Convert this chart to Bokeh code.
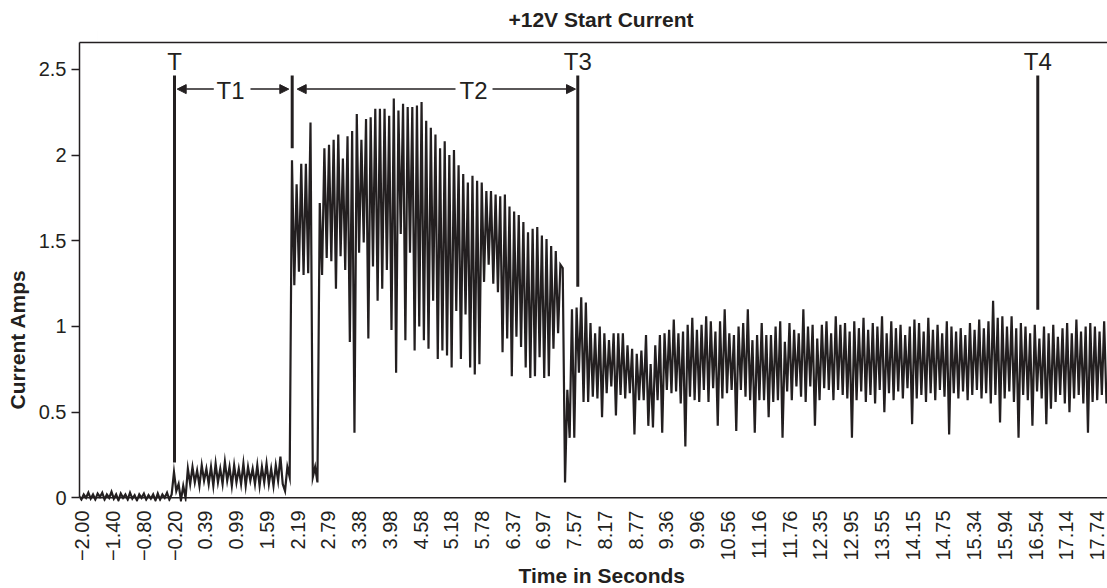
import math
from bokeh.plotting import figure
from bokeh.models import (Range1d, FixedTicker, LinearAxis, Span, Title, Arrow, NormalHead,
                          ColumnDataSource)
from bokeh.core.properties import value
from bokeh.embed import file_html
from bokeh.resources import INLINE

# ---------------- data ----------------
sample_start = -2.06      # seconds, first sample
sample_step = 0.045       # seconds between samples

idle_current = [0.01, -0.01, 0.02, 0.0, 0.03, -0.005, 0.02, -0.01, 0.025, 0.005,
                0.03, -0.01, 0.02, 0.0, 0.035, -0.005, 0.02, -0.015, 0.025, 0.0,
                0.02, -0.01, 0.03, -0.005, 0.015, -0.015, 0.02, 0.0, 0.025, -0.01,
                0.015, -0.005, 0.02, -0.015, 0.025, -0.01, 0.02, 0.0, 0.03, -0.01,
                0.02]
switch_on_current = [0.15, 0.04, 0.08, -0.015, 0.07, 0.0]
t1_current = [0.17, 0.08, 0.18, 0.09, 0.16, 0.07, 0.19, 0.10, 0.17, 0.08,
              0.18, 0.07, 0.20, 0.09, 0.17, 0.08, 0.21, 0.10, 0.18, 0.07,
              0.19, 0.09, 0.17, 0.08, 0.20, 0.07, 0.18, 0.10, 0.17, 0.08,
              0.19, 0.07, 0.18, 0.09, 0.20, 0.08, 0.17, 0.07, 0.19, 0.10,
              0.24, 0.08, 0.04, 0.18, 0.12]
t2_current = [1.97, 1.24, 1.83, 1.32, 1.95, 1.30, 1.95, 1.31, 2.19, 0.12,
              0.18, 0.09, 1.72, 1.30, 2.04, 1.40, 2.06, 1.38, 2.09, 1.22,
              2.12, 1.41, 1.98, 1.33, 2.11, 0.91, 2.14, 0.38, 2.24, 1.43,
              2.09, 1.49, 2.21, 0.93, 2.22, 1.35, 2.27, 1.15, 2.27, 1.22,
              2.27, 1.33, 2.23, 0.98, 2.33, 0.73, 2.26, 1.54, 2.30, 0.92,
              2.28, 1.43, 2.28, 0.86, 2.29, 1.00, 2.31, 0.92, 2.20, 0.87,
              2.16, 1.15, 2.12, 0.81, 2.04, 0.86, 2.08, 0.83, 2.00, 0.76,
              2.03, 1.09, 1.94, 0.81, 1.89, 1.07, 1.84, 0.76, 1.88, 0.72,
              1.85, 0.78, 1.84, 1.26, 1.79, 1.36, 1.79, 1.25, 1.77, 1.20,
              1.76, 0.85, 1.77, 0.93, 1.70, 0.71, 1.67, 0.94, 1.65, 0.88,
              1.61, 0.76, 1.55, 0.70, 1.57, 0.71, 1.58, 0.82, 1.53, 0.70,
              1.51, 0.71, 1.47, 0.87, 1.44, 0.96, 1.36, 1.34]
steady_current_a = [0.09, 0.63, 0.35, 1.10, 0.35, 1.11, 0.73, 1.17, 0.56, 1.14,
                    0.56, 1.02, 0.59, 0.96, 0.58, 1.00, 0.47, 0.96,
                    0.61, 0.92, 0.65, 0.96, 0.48, 0.96, 0.60, 0.96, 0.58, 0.89,
                    0.61, 0.87, 0.37, 0.84, 0.57, 0.86, 0.57, 0.95, 0.42, 0.78,
                    0.41, 0.89, 0.57, 0.95, 0.38, 0.96, 0.63, 0.98,
                    0.61, 1.04, 0.62, 0.96, 0.55, 0.97, 0.30, 1.01, 0.59, 1.05,
                    0.57, 0.98, 0.56, 1.01, 0.63, 1.06, 0.56, 1.03, 0.64, 0.97,
                    0.42, 1.03, 0.58, 1.10, 0.61, 0.96, 0.63, 0.95, 0.39, 1.00,
                    0.63, 1.02, 0.59, 1.10, 0.57, 0.92, 0.38, 0.95, 0.57, 1.02,
                    0.57, 0.95, 0.47, 0.95, 0.56, 1.00, 0.57, 1.03,
                    0.35, 0.91, 0.62, 1.02, 0.57, 0.98, 0.65, 0.96, 0.59, 1.10,
                    0.56, 1.00, 0.65, 1.01, 0.42, 0.93, 0.57, 1.01, 0.64, 1.03,
                    0.63, 0.96, 0.57, 1.06, 0.63, 1.01]
steady_current_b = [0.60, 1.02, 0.58, 0.97, 0.35, 1.03, 0.57, 0.99, 0.62, 1.05,
                    0.56, 0.98, 0.60, 1.02, 0.55, 1.00, 0.63, 1.06, 0.50, 0.96,
                    0.61, 1.03, 0.57, 0.99, 0.62, 1.01, 0.58, 0.95, 0.64, 1.00,
                    0.43, 1.04, 0.58, 1.02, 0.60, 0.97, 0.56, 1.05, 0.61, 0.98,
                    0.57, 1.01, 0.63, 0.96, 0.59, 1.03, 0.37, 1.00, 0.61, 0.97,
                    0.58, 0.99, 0.62, 0.95, 0.57, 1.02, 0.60, 0.98, 0.63, 1.04,
                    0.58, 0.99, 0.61, 1.03, 0.55, 1.15, 0.60, 1.05, 0.44, 1.06,
                    0.58, 1.00, 0.62, 1.06, 0.56, 0.99, 0.35, 1.02, 0.60, 1.00,
                    0.57, 0.96, 0.42, 1.01, 0.62, 0.93, 0.58, 1.00, 0.43, 0.96,
                    0.52, 1.01, 0.56, 0.94, 0.60, 0.99, 0.55, 1.02, 0.50, 0.96,
                    0.58, 1.04, 0.60, 0.97, 0.55, 1.00, 0.38, 1.02, 0.56, 1.00,
                    0.57, 0.97, 0.60, 1.03, 0.55]

x_tick_labels = ["\u22122.00", "\u22121.40", "\u22120.80", "\u22120.20", "0.39", "0.99", "1.59",
                 "2.19", "2.79", "3.38", "3.98", "4.58", "5.18", "5.78", "6.37", "6.97",
                 "7.57", "8.17", "8.77", "9.36", "9.96", "10.56", "11.16", "11.76", "12.35",
                 "12.95", "13.55", "14.15", "14.75", "15.34", "15.94", "16.54", "17.14", "17.74"]
y_ticks = [0, 0.5, 1, 1.5, 2, 2.5]
y_tick_labels = ["0", "0.5", "1", "1.5", "2", "2.5"]

# event markers (vertical bars)
marker_times = [-0.205, 2.084, 7.638, 16.584]
marker_lows = [0.206, 2.04, 1.232, 1.098]
marker_high = 2.465
marker_label_times = [-0.205, 7.638, 16.584]
marker_label_texts = ["T", "T3", "T4"]
marker_label_level = 2.548
interval_label_times = [0.886, 5.61]
interval_label_texts = ["T1", "T2"]
interval_label_level = 2.374
arrow_level = 2.385
arrow_starts = [0.559, 1.273, 5.26, 5.98]
arrow_ends = [-0.1525, 2.018, 2.181, 7.594]

# ---------------- build ----------------
current = idle_current + switch_on_current + t1_current + t2_current + steady_current_a + steady_current_b
time = [sample_start + sample_step * i for i in range(len(current))]
x_tick_values = [float(s.replace("\u2212", "-")) for s in x_tick_labels]

INK = "#231f20"
FONT = "Liberation Sans"

p = figure(width=1107, height=588, x_range=Range1d(-2.0525, 17.94), y_range=Range1d(-0.0215, 2.657),
           output_backend="svg", toolbar_location=None,
           min_border_left=79, min_border_right=0, min_border_top=42, min_border_bottom=86,
           outline_line_color=None, background_fill_color="white", border_fill_color="white")
p.xgrid.visible = False
p.ygrid.visible = False

p.line(time, current, line_color=INK, line_width=2.2, line_join="miter")

src = ColumnDataSource(dict(x=marker_times, y0=marker_lows, y1=[marker_high] * len(marker_times)))
p.segment(x0="x", y0="y0", x1="x", y1="y1", source=src, line_color=INK, line_width=3)

p.text(x=marker_label_times, y=[marker_label_level] * len(marker_label_times), text=marker_label_texts,
       text_font=value(FONT), text_font_size=value("24px"), text_color=INK,
       text_align="center", text_baseline="alphabetic")
p.text(x=interval_label_times, y=[interval_label_level] * len(interval_label_times), text=interval_label_texts,
       text_font=value(FONT), text_font_size=value("24px"), text_color=INK,
       text_align="center", text_baseline="alphabetic")
for xs, xe in zip(arrow_starts, arrow_ends):
    p.add_layout(Arrow(end=NormalHead(size=9, fill_color=INK, line_color=INK, line_width=1),
                       x_start=xs, y_start=arrow_level, x_end=xe, y_end=arrow_level,
                       line_color=INK, line_width=1.5))

p.add_layout(Span(location=0, dimension="width", line_color=INK, line_width=1.5))

yax = p.yaxis[0]
yax.ticker = FixedTicker(ticks=y_ticks)
yax.major_label_overrides = dict(zip(y_ticks, y_tick_labels))
yax.bounds = (0, 2.657)
yax.major_tick_out = 8
yax.major_tick_in = 0
yax.minor_tick_out = 0
yax.minor_tick_in = 0
yax.major_label_standoff = 5
yax.major_label_text_font = FONT
yax.major_label_text_font_size = "20px"
yax.major_label_text_color = INK
yax.axis_line_color = INK
yax.axis_line_width = 1.5
yax.major_tick_line_color = INK
yax.major_tick_line_width = 1.5

xax = p.xaxis[0]
xax.ticker = FixedTicker(ticks=x_tick_values)
xax.major_label_overrides = dict(zip(x_tick_values, x_tick_labels))
xax.major_label_orientation = math.pi / 2
xax.axis_line_color = None
xax.major_tick_line_color = None
xax.minor_tick_line_color = None
xax.major_tick_out = 0
xax.major_tick_in = 0
xax.major_label_standoff = 9
xax.major_label_text_font = FONT
xax.major_label_text_font_size = "20px"
xax.major_label_text_color = INK

# top frame border: an axis whose single, practically transparent tick (no label) spaces the title
top_ax = LinearAxis(ticker=FixedTicker(ticks=[-1.7]), axis_line_color=INK, axis_line_width=1.5,
                    major_tick_line_color=INK, major_tick_line_alpha=0.01, major_tick_line_width=0.5,
                    minor_tick_line_color=None,
                    major_tick_out=12, major_tick_in=0, minor_tick_out=0, minor_tick_in=0,
                    major_label_standoff=0, major_label_text_color=None)
p.add_layout(top_ax, "above")

p.title.text = "+12V Start Current"
p.title.align = "left"
p.title.offset = 429
p.title.standoff = 0
p.title.text_font = FONT
p.title.text_font_size = "21px"
p.title.text_font_style = "bold"
p.title.text_color = INK

p.add_layout(Title(text="Current Amps", align="left", offset=92, standoff=10, vertical_align="top",
                   text_font=FONT, text_font_size="21px", text_font_style="bold", text_color=INK), "left")
p.add_layout(Title(text="Time in Seconds", align="left", offset=439, standoff=-1, vertical_align="top",
                   text_font=FONT, text_font_size="21px", text_font_style="bold", text_color=INK), "below")

open("out.html", "w").write(file_html(p, INLINE))
